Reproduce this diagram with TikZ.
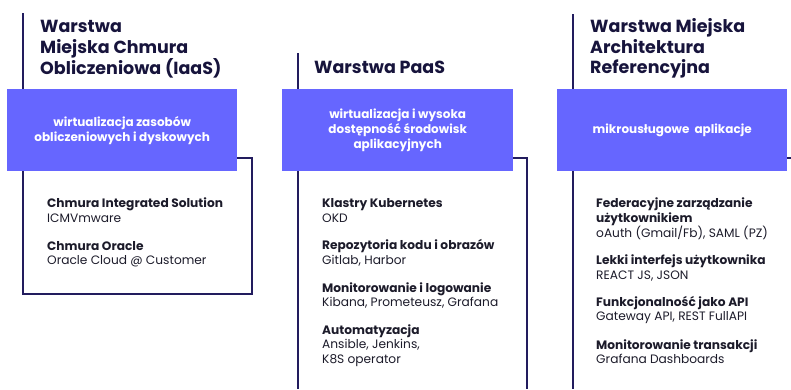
\documentclass[tikz,border=0pt]{standalone}
\usepackage{fontspec}
\setmainfont{Poppins}
\definecolor{violet}{HTML}{6666FF}
\definecolor{navy}{HTML}{221C5E}
\definecolor{ink}{HTML}{17143C}
\definecolor{bodyink}{HTML}{1C1B2A}
\begin{document}
\begin{tikzpicture}[x=1pt,y=-1pt,
  frame/.style={draw=navy,line width=2pt},
  band/.style={fill=violet,draw=none,anchor=north west,inner sep=0pt,
    minimum height=82pt,text=white,align=center,font=\fontsize{12}{15}\selectfont\bfseries},
  heading/.style={anchor=base west,inner sep=0pt,text=ink,font=\fontsize{17.5}{20}\selectfont\bfseries},
  itemhead/.style={anchor=base west,inner sep=0pt,text=bodyink,font=\fontsize{12.2}{14}\selectfont\bfseries},
  itemtext/.style={anchor=base west,inner sep=0pt,text=bodyink,font=\fontsize{12.2}{14}\selectfont}]
\useasboundingbox (0,0) rectangle (791,389);

% frames of the three columns
\draw[frame] (23,13) -- (23,294) -- (252,294) -- (252,158) -- (236,158);
\draw[frame] (298,53) -- (298,389);
\draw[frame] (512,158) -- (527,158) -- (527,389);
\draw[frame] (573,14) -- (573,389);
\draw[frame] (786,158) -- (791,158);

% coloured bands
\node[band,minimum width=230pt] (bandA) at (7,89) {wirtualizacja zasobów\\obliczeniowych i dyskowych};
\node[band,minimum width=231pt] (bandB) at (282,89) {wirtualizacja i wysoka\\dostępność środowisk\\aplikacyjnych};
\node[band,minimum width=230pt] (bandC) at (557,89) {mikrousługowe\ \ aplikacje};

% headings
\node[heading] (hA1) at (40,32.5) {Warstwa};
\node[heading] (hA2) at (40,53) {Miejska Chmura};
\node[heading] (hA3) at (40,74) {Obliczeniowa (IaaS)};
\node[heading] (hB1) at (314,73.5) {Warstwa PaaS};
\node[heading] (hC1) at (590,32.5) {Warstwa Miejska};
\node[heading] (hC2) at (590,53) {Architektura};
\node[heading] (hC3) at (590,73.5) {Referencyjna};

% IaaS items
\node[itemhead] (a1) at (47,207.7) {Chmura Integrated Solution};
\node[itemtext] (a2) at (47,222.3) {ICMVmware};
\node[itemhead] (a3) at (47,250) {Chmura Oracle};
\node[itemtext] (a4) at (47,264.3) {Oracle Cloud @ Customer};

% PaaS items
\node[itemhead] (b1) at (322,207.7) {Klastry Kubernetes};
\node[itemtext] (b2) at (322,222.3) {OKD};
\node[itemhead] (b3) at (322,249.3) {Repozytoria kodu i obrazów};
\node[itemtext] (b4) at (322,264) {Gitlab, Harbor};
\node[itemhead] (b5) at (322,292.3) {Monitorowanie i logowanie};
\node[itemtext] (b6) at (322,306) {Kibana, Prometeusz, Grafana};
\node[itemhead] (b7) at (322,334) {Automatyzacja};
\node[itemtext] (b8) at (322,348.3) {Ansible, Jenkins,};
\node[itemtext] (b9) at (322,363.3) {K8S operator};

% reference architecture items
\node[itemhead] (c1) at (596,207.7) {Federacyjne zarządzanie};
\node[itemhead] (c2) at (596,222.3) {użytkownikiem};
\node[itemtext] (c3) at (596,237.3) {oAuth (Gmail/Fb), SAML (PZ)};
\node[itemhead] (c4) at (596,264) {Lekki interfejs użytkownika};
\node[itemtext] (c5) at (596,279) {REACT JS, JSON};
\node[itemhead] (c6) at (596,306) {Funkcjonalność jako API};
\node[itemtext] (c7) at (596,320.7) {Gateway API, REST FullAPI};
\node[itemhead] (c8) at (596,349) {Monitorowanie transakcji};
\node[itemtext] (c9) at (596,363.3) {Grafana Dashboards};
\end{tikzpicture}
\end{document}
